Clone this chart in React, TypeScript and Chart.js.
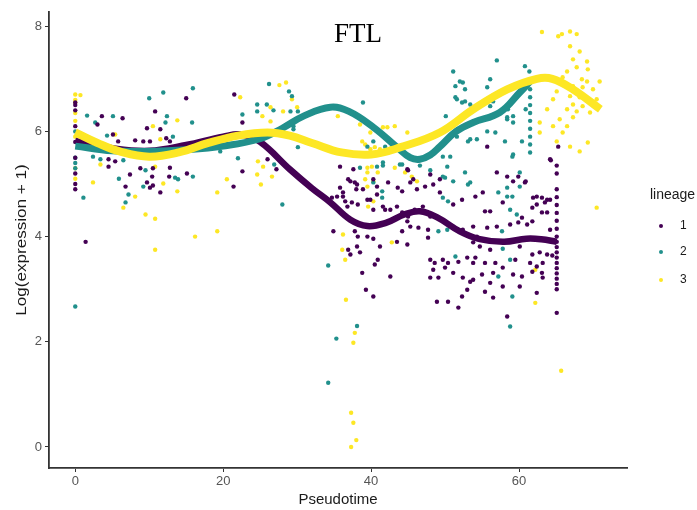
import React, { useEffect, useRef } from "react";
import { Chart, registerables } from "chart.js";

Chart.register(...registerables);

const chartTitle = "FTL";
const xTitle = "Pseudotime";
const yTitle = "Log(expression + 1)";
const legendTitle = "lineage";
const legendLabels = ["1", "2", "3"];
const colors = ["#440154", "#21908C", "#FDE725"];
const xTicks = [0, 20, 40, 60];
const yTicks = [0, 2, 4, 6, 8];

const lineage1Points: number[][] = [
  [0,6.55],[0,6.5],[0,6.4],[0,6.1],[0,5.8],[0,5.5],[0,5.2],[0,5.0],[0,4.9],
  [15.0,6.63],[21.5,6.7],[10.8,6.38],[3.6,6.29],[6.4,6.25],[3.0,6.13],[9.7,6.06],[11.5,6.04],[5.1,5.94],[8.1,5.83],[9.2,5.81],[5.8,5.81],[12.3,5.87],[12.8,5.81],[10.1,5.81],[4.5,5.47],[5.4,5.43],[4.5,5.33],[8.8,5.3],[10.5,5.3],[12.8,5.31],[7.4,5.18],[10.4,5.14],[12.7,5.14],[15.1,5.2],[6.8,4.95],[9.7,5.03],[10.1,4.93],[10.5,4.97],[11.5,4.84],[21.4,4.95],[1.4,3.9],
  [22.6,6.17],[22.6,5.24],[26.0,5.47],[27.2,5.28],[35.8,5.33],[35.8,4.93],[36.9,5.09],[37.8,5.03],[38.0,4.90],[36.2,4.76],[34.7,4.74],[38.9,4.90],[39.9,4.70],[40.8,4.80],[38.2,4.61],[36.8,4.57],[41.9,4.51],
  [45.0,5.26],[54.1,4.76],[37.2,5.05],[38.1,4.99],[40.8,4.95],[42.3,5.03],[43.6,4.93],[44.2,4.86],[45.3,5.03],[46.2,4.90],[47.3,4.95],[48.4,4.99],[49.3,4.84],[51.1,4.61],[52.3,4.70],[35.4,4.76],[36.2,4.84],[36.5,4.67],[37.4,4.65],[39.5,4.70],[40.3,4.51],[41.6,4.57],[42.6,4.51],[43.5,4.57],[44.2,4.46],[45.0,4.38],[45.9,4.51],[47.0,4.57],[48.0,4.38],[44.9,4.29],[45.3,4.19],[34.9,4.10],[37.8,4.10],[38.2,4.00],[39.5,4.00],[40.3,3.96],[44.2,4.10],[46.4,4.17],[47.7,4.13],[51.1,4.19],[47.7,3.98],[52.4,4.13],[53.8,4.19],[54.3,4.00],[38.1,3.81],[44.9,3.85],[43.5,3.90],[41.2,3.81],[36.9,3.75],[37.2,3.66],[38.5,3.70],[40.9,3.56],[40.5,3.47],[48.0,3.56],[48.6,3.50],[49.7,3.56],[50.4,3.50],[51.8,3.52],[53.0,3.60],[53.8,3.50],[48.4,3.37],[50.0,3.41],[51.1,3.31],[38.8,3.31],[42.6,3.24],[48.0,3.22],[49.1,3.22],[52.4,3.22],[53.4,3.14],[39.3,2.99],[40.3,2.86],[48.9,2.76],[50.4,2.76],[51.8,2.65],[52.3,2.86],[53.0,2.99],
  [64.3,5.45],[57.0,5.22],[58.4,5.14],[59.2,5.05],[60.9,5.05],[55.1,4.84],[61.9,4.74],[63.1,4.74],[64.2,4.70],[62.4,4.61],[61.8,4.55],[63.5,4.65],[57.8,4.65],[55.4,4.48],[56.1,4.48],[60.4,4.36],[61.8,4.29],[63.1,4.46],[63.8,4.46],[55.7,4.17],[57.0,4.19],[58.8,4.23],[59.9,4.27],[61.1,4.23],[64.2,4.13],[53.8,3.89],[54.7,3.81],[56.1,3.75],[60.1,3.81],[61.8,3.66],[62.8,3.70],[63.8,3.66],[64.5,3.64],[54.1,3.60],[55.4,3.50],[56.8,3.50],[57.8,3.41],[59.5,3.56],[61.5,3.50],[62.4,3.43],[63.2,3.50],[53.8,3.18],[55.0,3.28],[56.5,3.31],[59.2,3.28],[60.4,3.24],[61.8,3.33],[63.1,3.31],[57.8,3.05],[56.1,3.12],[55.4,2.95],[60.1,3.05],[63.2,3.22],[56.5,2.84],[62.4,2.93],[58.4,2.48],[65.1,2.55],
  [65.1,5.35],[65.1,5.2],[65.1,4.9],[65.1,4.75],[65.1,4.6],[65.1,4.45],[65.1,4.3],[65.1,4.15],[65.1,4.0],[65.1,3.9],[65.1,3.8],[65.1,3.7],[65.1,3.6],[65.1,3.5],[65.1,3.4],[65.1,3.3],[65.1,3.2],[65.1,3.1],[65.1,3.0],
  [55.7,5.71],[64.2,5.47],[65.3,5.71],[37.6,5.28],[40.3,5.09],[44.9,5.28],[45.7,5.09],[48.0,5.18],[49.3,5.09],[59.9,5.14],[60.8,5.03],[62.4,4.76],[63.8,4.70]
];

const lineage2Points: number[][] = [
  [0,6.0],[0,5.5],[0,5.4],[0,5.3],[0,2.67],
  [11.9,6.74],[15.9,6.82],[10.0,6.63],[1.6,6.3],[5.1,6.29],[2.7,6.17],[12.4,6.29],[12.2,6.17],[15.8,6.17],[4.3,5.92],[13.2,5.9],[3.4,5.47],[2.4,5.52],[6.5,5.45],[9.5,5.26],[5.9,5.1],[13.5,5.12],[13.9,5.09],[15.9,5.14],[9.2,4.95],[7.2,4.8],[6.8,4.65],[1.1,4.74],[19.6,5.62],
  [26.2,6.9],[28.9,6.76],[29.3,6.67],[24.6,6.51],[25.9,6.51],[24.6,6.38],[26.8,6.4],[29.1,6.38],[30.1,6.38],[22.6,6.32],[29.5,6.1],[29.5,6.04],[30.1,5.7],[38.9,6.55],[22.0,5.49],[26.9,5.37],[28.0,4.61],[38.5,5.31],[40.8,5.33],[39.5,5.71],[40.3,5.81],[40.3,5.03],[41.5,4.74],
  [41.6,5.35],[43.9,5.37],[46.6,5.35],[48.0,5.26],[49.7,5.52],[50.3,5.33],[50.0,5.12],[51.1,5.05],[52.7,5.22],[53.4,5.03],[41.5,4.86],[49.7,4.74],[50.4,4.67],[49.1,4.10],[50.3,4.13],[51.4,3.62],[38.1,2.30],
  [59.2,5.56],[60.1,5.22],[58.4,4.93],[60.1,4.95],[59.1,4.76],[58.4,4.76],[57.2,4.84],[58.8,4.51],[59.7,4.42],[57.7,4.10],[57.8,3.77],[58.8,3.56],[57.2,3.24],[59.1,2.86],[58.8,2.29],
  [34.2,3.45],[35.3,2.06],[34.2,1.22],
  [51.1,7.14],[57.0,7.35],[60.8,7.24],[61.4,7.14],[52.0,6.95],[52.4,6.93],[51.4,6.86],[56.1,6.99],[55.7,6.84],[52.7,6.80],[51.4,6.65],[56.5,6.57],[56.1,6.48],[52.7,6.57],[52.3,6.55],[53.4,6.51],[58.4,6.48],[59.2,6.29],[58.4,6.23],[58.5,6.42],[60.9,6.42],[50.1,6.29],[53.4,5.85],[58.1,5.81],[60.4,5.81],[59.1,5.52],
  [61.5,6.8],[61.5,6.65],[61.5,6.5],[61.5,6.35],[61.5,6.2],[61.5,6.05],[61.5,5.9],[61.5,5.75],[61.5,5.6],
  [51.6,6.61],[51.6,5.90],[53.1,5.81],[54.3,5.85],[55.7,6.0],[56.8,5.98],[59.2,6.17],[58.4,6.27],[41.9,5.71],[41.6,5.41],[44.2,5.37],[50.7,5.52],[49.7,5.14],[53.1,4.99]
];

const lineage3Points: number[][] = [
  [0,6.7],[0,6.6],[0,6.35],[0,6.2],[0,5.9],[0,5.3],[0,5.1],[0,6.55],
  [0.7,6.69],[13.8,6.21],[10.5,6.1],[5.4,5.94],[11.5,5.85],[3.4,5.37],[10.8,5.33],[2.4,5.03],[11.9,5.01],[8.1,4.76],[13.8,4.86],[19.2,4.84],[6.5,4.55],[9.5,4.42],[10.8,4.34],[20.5,5.09],[10.8,3.75],[16.2,4.0],[19.2,4.1],
  [27.6,6.88],[28.5,6.93],[29.3,6.61],[26.4,6.46],[28.1,6.38],[30.0,6.46],[22.3,6.65],[26.4,6.19],[25.3,6.29],[35.5,6.29],[38.5,6.13],[24.7,5.43],[25.4,5.33],[26.6,5.14],[24.6,5.18],[25.1,4.99],[38.8,5.81],[39.9,5.66],[41.2,5.66],[42.2,6.08],[39.5,5.31],[39.2,5.09],[40.3,4.67],
  [39.5,5.22],[40.3,5.05],[39.6,4.57],[36.2,4.04],[42.8,3.89],[36.1,3.75],[36.5,3.56],[36.6,2.80],
  [62.2,3.37],[62.2,2.74],
  [37.8,2.17],[37.6,1.98],[37.3,0.65],[37.6,0.46],[38.0,0.13],[37.3,0.0],[65.7,1.45],
  [63.1,7.89],[65.3,7.81],[65.8,7.85],[66.9,7.90],[67.8,7.85],[66.9,7.62],[68.2,7.52],[67.3,7.37],[69.2,7.33],[67.8,7.22],[69.3,7.18],[66.5,7.14],[65.9,7.03],[68.5,6.99],[69.2,6.95],[70.9,6.95],[67.3,6.86],[68.6,6.84],[70.0,6.80],[65.1,6.76],[66.9,6.67],[68.2,6.65],[70.5,6.61],[64.6,6.61],[67.3,6.51],[68.6,6.48],[63.8,6.42],[66.5,6.42],[67.8,6.38],[69.6,6.36],[65.5,6.23],[67.3,6.27],[62.8,6.17],[64.6,6.10],[66.5,6.10],[62.8,5.98],[65.9,5.98],[65.1,5.81],[66.9,5.71],[68.2,5.62],[69.3,5.79],[70.5,4.55],
  [39.9,5.98],[41.6,6.08],[43.2,6.10],[44.9,5.98],[39.2,5.75],[40.5,5.70],[42.8,5.71],[40.1,5.33],[40.9,5.22],[43.2,5.31],[44.6,5.22],[45.5,5.14],[46.2,5.05],[39.5,4.95]
];

const lineage1Curve: number[][] = [
  [0,5.82],[5,5.68],[10,5.63],[15,5.74],[20,5.9],[22.5,5.94],[25,5.8],[29,5.28],[32,4.92],[34.5,4.65],[37.2,4.32],[39.5,4.2],[42,4.26],[44.5,4.42],[46.6,4.48],[49,4.36],[52,4.1],[54.7,3.95],[58,3.9],[61,3.96],[63,3.95],[65.1,3.9]
];
const lineage2Curve: number[][] = [
  [0,5.72],[5,5.63],[10,5.62],[15,5.65],[20,5.72],[25,5.86],[28,6.06],[31,6.3],[34.5,6.46],[37,6.38],[40.3,6.08],[43.5,5.7],[45.3,5.5],[46.6,5.47],[48,5.55],[49.3,5.71],[51.5,6.0],[53.8,6.17],[57.4,6.36],[60.1,6.74],[61.5,6.95]
];
const lineage3Curve: number[][] = [
  [0,5.98],[3,5.78],[6,5.62],[10,5.52],[14,5.6],[18,5.78],[22,5.92],[26,5.98],[29,5.92],[32,5.78],[36,5.6],[40,5.56],[44,5.7],[49.3,5.98],[53.8,6.42],[58.4,6.8],[62.4,7.0],[64.5,7.0],[67.3,6.8],[71,6.42]
];

const toXY = (arr: number[][]) => arr.map(([x, y]) => ({ x, y }));

const textPlugin = {
  id: "texts",
  afterDraw(chart: any) {
    const ctx = chart.ctx;
    const area = chart.chartArea;
    ctx.save();
    ctx.fillStyle = "#000";
    ctx.font = '27px "Liberation Serif", "DejaVu Serif", serif';
    ctx.textAlign = "center";
    ctx.textBaseline = "alphabetic";
    ctx.fillText(chartTitle, 358, 42);

    ctx.fillStyle = "#1a1a1a";
    ctx.font = '15px "Liberation Sans", Arial, sans-serif';
    ctx.textBaseline = "middle";
    ctx.fillText(xTitle, (area.left + area.right) / 2, 500);
    ctx.save();
    ctx.translate(22, (area.top + area.bottom) / 2);
    ctx.rotate(-Math.PI / 2);
    ctx.scale(1.14, 1);
    ctx.fillText(yTitle, 0, 0);
    ctx.restore();

    ctx.textAlign = "left";
    ctx.font = '14px "Liberation Sans", Arial, sans-serif';
    ctx.fillText(legendTitle, 650, 195);
    const ys = [226, 252, 280];
    ctx.font = '12px "Liberation Sans", Arial, sans-serif';
    legendLabels.forEach((lab, i) => {
      ctx.fillStyle = colors[i];
      ctx.beginPath();
      ctx.arc(661, ys[i], 2, 0, Math.PI * 2);
      ctx.fill();
      ctx.fillStyle = "#1a1a1a";
      ctx.fillText(lab, 680, ys[i]);
    });
    ctx.restore();
  },
};

export default function App() {
  const ref = useRef<HTMLCanvasElement | null>(null);
  useEffect(() => {
    document.body.style.margin = "0";
    const pointSets = [lineage1Points, lineage2Points, lineage3Points];
    const curves = [lineage1Curve, lineage2Curve, lineage3Curve];
    const widths = [6.5, 7, 8];
    const datasets: any[] = [];
    pointSets.forEach((pts, i) => {
      datasets.push({
        type: "scatter",
        label: "pts" + (i + 1),
        data: toXY(pts),
        pointRadius: 2.2,
        pointBorderWidth: 0,
        pointBackgroundColor: colors[i],
        backgroundColor: colors[i],
        showLine: false,
        order: 10 + i,
      });
    });
    curves.forEach((c, i) => {
      datasets.push({
        type: "line",
        label: "curve" + (i + 1),
        data: toXY(c),
        borderColor: colors[i],
        borderWidth: widths[i],
        pointRadius: 0,
        tension: 0.4,
        fill: false,
        order: 3 - i,
      });
    });
    const tickFont = { family: '"Liberation Sans", Arial, sans-serif', size: 13 };
    const chart = new Chart(ref.current as HTMLCanvasElement, {
      type: "scatter",
      data: { datasets },
      plugins: [textPlugin],
      options: {
        responsive: false,
        animation: false,
        layout: { padding: { left: 0, top: 12, right: 70, bottom: 0 } },
        plugins: { legend: { display: false }, tooltip: { enabled: false } },
        scales: {
          x: {
            type: "linear",
            min: -3.55,
            max: 74.6,
            afterBuildTicks: (s: any) => { s.ticks = xTicks.map((v) => ({ value: v })); },
            afterFit: (s: any) => { s.height = 42; },
            ticks: { color: "#555", font: tickFont, padding: 2 },
            grid: { display: true, drawOnChartArea: false, drawTicks: true, tickLength: 4, color: "#333" },
            border: { display: true, color: "#333", width: 1.8 },
          },
          y: {
            type: "linear",
            min: -0.4,
            max: 8.27,
            afterBuildTicks: (s: any) => { s.ticks = yTicks.map((v) => ({ value: v })); },
            afterFit: (s: any) => { s.width = 49; },
            ticks: { color: "#555", font: tickFont, padding: 3 },
            grid: { display: true, drawOnChartArea: false, drawTicks: true, tickLength: 4, color: "#333" },
            border: { display: true, color: "#333", width: 1.8 },
          },
        },
      },
    });
    return () => chart.destroy();
  }, []);
  return (
    <div style={{ position: "absolute", left: 0, top: 0, width: 697, height: 510, background: "#fff" }}>
      <canvas ref={ref} width={697} height={510} style={{ width: 697, height: 510, display: "block" }} />
    </div>
  );
}
